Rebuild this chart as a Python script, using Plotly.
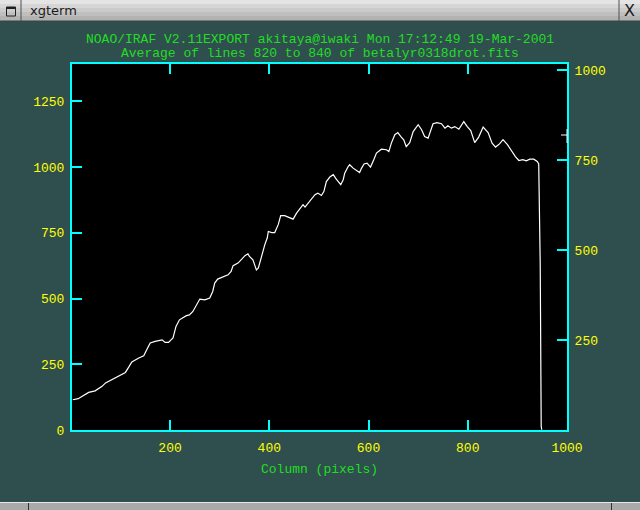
import plotly.graph_objects as go

# ---- data ----
columns = [
    4, 15, 23, 36, 49, 63, 70, 83, 96, 110,
    117, 123, 137, 147, 153, 160, 170, 184, 190, 197,
    202, 206, 212, 219, 233, 239, 246, 253, 260, 270,
    280, 286, 290, 296, 307, 317, 323, 327, 337, 343,
    351, 357, 360, 367, 374, 378, 384, 391, 396, 398,
    405, 411, 418, 423, 431, 439, 448, 455, 462, 468,
    472, 478, 485, 492, 498, 505, 510, 515, 522, 529,
    535, 544, 549, 552, 559, 562, 569, 582, 586, 591,
    597, 604, 611, 616, 626, 636, 641, 646, 653, 659,
    666, 671, 676, 683, 690, 700, 707, 713, 720, 725,
    730, 738, 747, 754, 760, 767, 774, 782, 787, 792,
    799, 806, 814, 822, 831, 841, 849, 856, 864, 871,
    880, 889, 896, 903, 911, 918, 925, 933, 940, 943,
    944, 946, 948, 949,
]
average = [
    115, 119, 128, 143, 149, 166, 179, 191, 206, 219,
    240, 259, 274, 282, 305, 331, 337, 343, 333, 333,
    343, 350, 394, 419, 435, 438, 451, 476, 498, 495,
    502, 527, 559, 574, 584, 590, 603, 625, 635, 647,
    663, 670, 660, 647, 609, 616, 660, 705, 731, 755,
    751, 751, 781, 815, 815, 810, 802, 825, 844, 857,
    848, 863, 882, 895, 901, 892, 907, 945, 962, 971,
    954, 933, 952, 977, 1002, 1009, 996, 979, 996, 1012,
    1015, 1000, 1030, 1053, 1068, 1066, 1059, 1091, 1123, 1131,
    1114, 1104, 1078, 1093, 1135, 1161, 1142, 1116, 1110, 1142,
    1165, 1169, 1165, 1148, 1157, 1148, 1154, 1144, 1161, 1173,
    1154, 1139, 1093, 1114, 1152, 1131, 1091, 1076, 1088, 1104,
    1085, 1059, 1040, 1025, 1028, 1024, 1030, 1030, 1021, 1012,
    901, 635, 15, 1,
]
x_ticks = [200, 400, 600, 800, 1000]
y_ticks = [0, 250, 500, 750, 1000, 1250]
y2_ticks = [250, 500, 750, 1000]

title_line1 = "NOAO/IRAF V2.11EXPORT akitaya@iwaki Mon 17:12:49 19-Mar-2001"
title_line2 = "Average of lines 820 to 840 of betalyr0318drot.fits"
x_title = "Column (pixels)"
window_title = "xgterm"

# ---- style ----
W, H = 640, 510
L, R, T, B = 72, 73, 64, 80
PW, PH = W - L - R, H - T - B
MONO = "Liberation Mono, DejaVu Sans Mono, monospace"
GREEN = "#22dd22"
YELLOW = "#ffff00"
CYAN = "#00ffff"
BG = "#2f4f4f"


def px(x):
    return (x - L) / PW


def py(y):
    return (H - B - y) / PH


fig = go.Figure()
fig.add_trace(go.Scatter(x=columns, y=average, mode="lines",
                         line=dict(color="white", width=1.2),
                         showlegend=False, hoverinfo="skip"))
fig.add_trace(go.Scatter(x=[None], y=[None], yaxis="y2", showlegend=False,
                         hoverinfo="skip"))

axis_common = dict(ticks="inside", ticklen=10, tickwidth=2, tickcolor=CYAN,
                   showline=True, linecolor=CYAN, linewidth=2,
                   showgrid=False, zeroline=False,
                   tickfont=dict(family=MONO, size=13, color=YELLOW))

fig.update_layout(
    width=W, height=H, autosize=False,
    margin=dict(l=L, r=R, t=T, b=B, pad=0),
    paper_bgcolor=BG, plot_bgcolor="black",
    xaxis=dict(range=[2.4, 1000], tickvals=x_ticks, mirror="ticks",
               ticklabelstandoff=4, **axis_common),
    yaxis=dict(range=[0, 1392], tickvals=y_ticks, ticklabelstandoff=3,
               **axis_common),
    yaxis2=dict(range=[0, 1018], tickvals=y2_ticks, overlaying="y",
                side="right", ticklabelstandoff=3, **axis_common),
)

annotations = [
    dict(text=title_line1, x=0.5, y=py(39)),
    dict(text=title_line2, x=0.5, y=py(53)),
    dict(text=x_title, x=px(319), y=py(469)),
]
for a in annotations:
    fig.add_annotation(xref="paper", yref="paper", xanchor="center",
                       yanchor="middle", showarrow=False,
                       font=dict(family=MONO, size=13, color=GREEN), **a)

# window decoration: title bar
shapes = []
bands = [(0, 4, "#e4e4e4"), (4, 8, "#d6d6d6"), (8, 12, "#cbcbcb"),
         (12, 16, "#bfbfbf"), (16, 21, "#b2b2b2")]
for y0, y1, c in bands:
    shapes.append(dict(type="rect", xref="paper", yref="paper",
                       x0=px(0), x1=px(W), y0=py(y1), y1=py(y0),
                       fillcolor=c, line=dict(width=0), layer="above"))
shapes += [
    dict(type="line", x0=px(0), x1=px(W), y0=py(21), y1=py(21),
         line=dict(color="#404040", width=1)),
    dict(type="line", x0=px(21), x1=px(21), y0=py(0), y1=py(21),
         line=dict(color="#505050", width=1)),
    dict(type="line", x0=px(619), x1=px(619), y0=py(0), y1=py(21),
         line=dict(color="#505050", width=1)),
    dict(type="rect", x0=px(6.5), x1=px(15.5), y0=py(16), y1=py(7),
         line=dict(color="#202020", width=1)),
    dict(type="line", x0=px(6.5), x1=px(15.5), y0=py(8), y1=py(8),
         line=dict(color="#202020", width=2)),
    # bottom bar
    dict(type="rect", x0=px(0), x1=px(W), y0=py(H), y1=py(502.5),
         fillcolor="#a9a9a9", line=dict(width=0)),
    dict(type="line", x0=px(0), x1=px(W), y0=py(502.5), y1=py(502.5),
         line=dict(color="#e8e8e8", width=1)),
    dict(type="line", x0=px(28.5), x1=px(28.5), y0=py(503), y1=py(H),
         line=dict(color="#303030", width=1)),
    dict(type="line", x0=px(611.5), x1=px(611.5), y0=py(503), y1=py(H),
         line=dict(color="#303030", width=1)),
    # cursor mark on the right frame
    dict(type="line", x0=px(561), x1=px(567), y0=py(135), y1=py(135),
         line=dict(color="white", width=1)),
    dict(type="line", x0=px(567), x1=px(567), y0=py(129), y1=py(143),
         line=dict(color="white", width=1)),
]
for s in shapes:
    s.setdefault("xref", "paper")
    s.setdefault("yref", "paper")
    s.setdefault("layer", "above")
    fig.add_shape(**s)

fig.add_annotation(xref="paper", yref="paper", x=px(28), y=py(11),
                   xanchor="left", yanchor="middle", showarrow=False,
                   text=window_title,
                   font=dict(family="DejaVu Sans, sans-serif", size=13,
                             color="#1a1a1a"))
fig.add_annotation(xref="paper", yref="paper", x=px(629.5), y=py(11),
                   xanchor="center", yanchor="middle", showarrow=False,
                   text="X",
                   font=dict(family="DejaVu Sans, sans-serif", size=16,
                             color="#1a1a1a"))

fig.write_html("out.html",
               config={"displayModeBar": False},
               post_script="document.body.style.margin='0';"
                           "document.body.style.overflow='hidden';")
